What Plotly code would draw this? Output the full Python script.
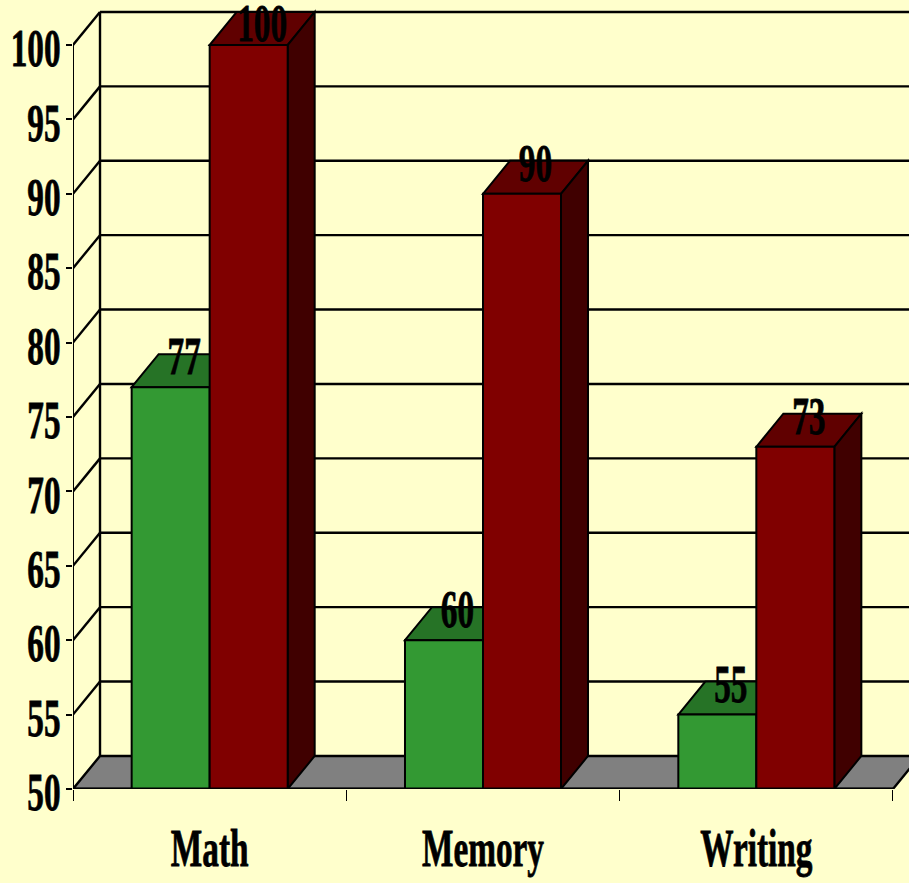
"""
3D look grouped bars, Math / Memory / Writing scores.
"""
import plotly.graph_objects as go

#Data:
categories = ["Math", "Memory", "Writing"]
green_values = [77, 60, 55]
red_values = [100, 90, 73]
y_ticks = [50, 55, 60, 65, 70, 75, 80, 85, 90, 95, 100]

#Look of the fake 3D box, in axis units:
depth_x = 0.0988
depth_y = 2.22
bar_width = 0.2854
label_cap = 99.4 #the tallest label is pushed down so it stays on the page

BG = "#FFFFCC"
GREEN, GREEN_TOP = "#339933", "#267326"
RED, RED_TOP, RED_SIDE = "#800000", "#600000", "#400000"
FONT = dict(family="Liberation Serif", size=52, color="black", weight="bold")

y_min, y_max = y_ticks[0], y_ticks[-1]
x_end = len(categories)
x_pos = [i + 0.5 for i in range(x_end)]


def poly(points, fill, width=2):
    path = "M " + " L ".join(f"{x} {y}" for x, y in points) + " Z"
    return dict(type="path", path=path, xref="x", yref="y", layer="below",
                fillcolor=fill, line=dict(color="black", width=width))


def line(x0, y0, x1, y1):
    return dict(type="line", x0=x0, y0=y0, x1=x1, y1=y1, xref="x", yref="y",
                layer="below", line=dict(color="black", width=2.4))


shapes = []

#Floor:
shapes.append(poly([(0, y_min), (depth_x, y_min + depth_y), (x_end + 2 * depth_x, y_min + depth_y),
                    (x_end + depth_x, y_min + depth_y), (x_end, y_min)], "#808080", 2.4))

#Back wall and left wall lines:
shapes.append(line(depth_x, y_min + depth_y, depth_x, y_max + depth_y))
for t in y_ticks[1:]:
    shapes.append(line(depth_x, t + depth_y, x_end + 1, t + depth_y))
    shapes.append(line(0, t, depth_x, t + depth_y))

#Top and side faces, kept under the bars so red hides the green faces:
for x, g, r in zip(x_pos, green_values, red_values):
    shapes.append(poly([(x - bar_width, g), (x - bar_width + depth_x, g + depth_y),
                        (x + depth_x, g + depth_y), (x, g)], GREEN_TOP))
    shapes.append(poly([(x, r), (x + depth_x, r + depth_y),
                        (x + bar_width + depth_x, r + depth_y), (x + bar_width, r)], RED_TOP))
    shapes.append(poly([(x + bar_width, y_min), (x + bar_width + depth_x, y_min + depth_y),
                        (x + bar_width + depth_x, r + depth_y), (x + bar_width, r)], RED_SIDE))

fig = go.Figure()

fig.add_trace(go.Bar(x=x_pos, y=[v - y_min for v in green_values], base=y_min, width=bar_width,
                     offset=-bar_width, marker=dict(color=GREEN, line=dict(color="black", width=2)),
                     name="Green"))
fig.add_trace(go.Bar(x=x_pos, y=[v - y_min for v in red_values], base=y_min, width=bar_width,
                     offset=0, marker=dict(color=RED, line=dict(color="black", width=2)),
                     name="Red"))

#Axis lines stop short of the plot area, so they are drawn here and not clipped:
fig.add_trace(go.Scatter(x=[0, 0], y=[y_min, y_max], mode="lines", cliponaxis=False,
                         line=dict(color="black", width=2), hoverinfo="skip"))
fig.add_trace(go.Scatter(x=[0, x_end], y=[y_min, y_min], mode="lines", cliponaxis=False,
                         line=dict(color="black", width=3), hoverinfo="skip"))

#Value labels:
fig.add_trace(go.Scatter(
    x=[x - bar_width / 2 + depth_x / 2 for x in x_pos],
    y=[min(v, label_cap) for v in green_values],
    text=[str(v) for v in green_values], mode="text", textposition="top center",
    textfont=FONT, cliponaxis=False, hoverinfo="skip"))
fig.add_trace(go.Scatter(
    x=[x + bar_width / 2 + depth_x / 2 for x in x_pos],
    y=[min(v, label_cap) for v in red_values],
    text=[str(v) for v in red_values], mode="text", textposition="top center",
    textfont=FONT, cliponaxis=False, hoverinfo="skip"))

fig.update_layout(
    width=909, height=883,
    margin=dict(l=73, r=0, t=6, b=94),
    paper_bgcolor=BG, plot_bgcolor=BG,
    showlegend=False, barmode="overlay",
    shapes=shapes,
)
fig.update_xaxes(
    range=[0, 836 / 273.33], automargin=False,
    tickmode="array", tickvals=x_pos, ticktext=categories,
    ticks="outside", ticklen=0, tickfont=FONT, ticklabelstandoff=14,
    minor=dict(tick0=0, dtick=1, ticks="outside", ticklen=11, tickwidth=1, tickcolor="black"),
    showgrid=False, showline=False, zeroline=False,
)
fig.update_yaxes(
    range=[y_min, y_min + 783 / 14.88], automargin=False,
    tickmode="array", tickvals=y_ticks,
    ticks="outside", ticklen=6, tickwidth=2, tickcolor="black", tickfont=FONT,
    ticklabelstandoff=-5, ticklabelshift=3,
    showgrid=False, showline=False, zeroline=False,
)

#The original type is a squeezed Times, plotly has no font stretch so scale the text here
squeeze = """
document.querySelectorAll('.xtick text, .ytick text, .textpoint text').forEach(function(t) {
    var x = t.getAttribute('x') || 0, y = t.getAttribute('y') || 0, old = t.getAttribute('transform') || '';
    t.setAttribute('transform', old + ' translate(' + x + ',' + y + ') scale(0.64,1) translate(' + (-x) + ',' + (-y) + ')');
    t.style.stroke = 'black';
    t.style.strokeWidth = '0.8px';
});
document.body.style.margin = '0';
"""
fig.write_html("out.html", post_script=squeeze, config=dict(displayModeBar=False))
